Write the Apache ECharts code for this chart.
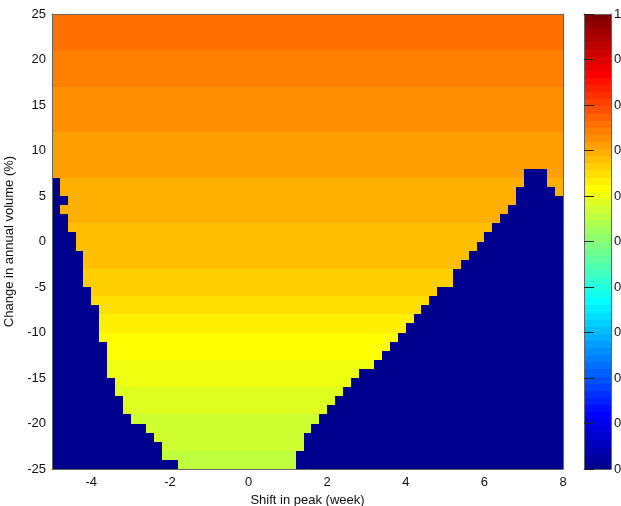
<!DOCTYPE html>
<html>
<head>
<meta charset="utf-8">
<script src="https://cdn.jsdelivr.net/npm/echarts@6/dist/echarts.min.js"></script>
<style>
  html, body { margin: 0; padding: 0; background: #fff; }
  #chart { width: 621px; height: 506px; }
</style>
</head>
<body>
<div id="chart"></div>
<script>
// grid columns: shift in peak (week), left edge of each cell
const weekCols = [-5, -4.8, -4.6, -4.4, -4.2, -4, -3.8, -3.6, -3.4, -3.2, -3, -2.8, -2.6, -2.4, -2.2,
  -2, -1.8, -1.6, -1.4, -1.2, -1, -0.8, -0.6, -0.4, -0.2, 0, 0.2, 0.4, 0.6, 0.8, 1, 1.2, 1.4, 1.6,
  1.8, 2, 2.2, 2.4, 2.6, 2.8, 3, 3.2, 3.4, 3.6, 3.8, 4, 4.2, 4.4, 4.6, 4.8, 5, 5.2, 5.4, 5.6, 5.8,
  6, 6.2, 6.4, 6.6, 6.8, 7, 7.2, 7.4, 7.6, 7.8];

// grid rows: change in annual volume (%), bottom edge of each cell, top to bottom
const volumeRows = [24, 23, 22, 21, 20, 19, 18, 17, 16, 15, 14, 13, 12, 11, 10, 9, 8, 7, 6, 5, 4, 3,
  2, 1, 0, -1, -2, -3, -4, -5, -6, -7, -8, -9, -10, -11, -12, -13, -14, -15, -16, -17, -18, -19,
  -20, -21, -22, -23, -24, -25];

// value in the feasible part of each row
const rowLevel = [0.764, 0.761, 0.757, 0.753, 0.748, 0.745, 0.741, 0.737, 0.733, 0.73, 0.727,
  0.724, 0.721, 0.717, 0.714, 0.711, 0.708, 0.705, 0.701, 0.698, 0.695, 0.692, 0.689, 0.686,
  0.683, 0.68, 0.677, 0.674, 0.67, 0.665, 0.66, 0.654, 0.645, 0.638, 0.63, 0.623, 0.617, 0.611,
  0.607, 0.601, 0.596, 0.592, 0.586, 0.58, 0.577, 0.573, 0.569, 0.564, 0.561, 0.556];

// feasible region per row: from leftEdge up to rightEdge, and again from reopenAt
const leftEdge = [-5, -5, -5, -5, -5, -5, -5, -5, -5, -5, -5, -5, -5, -5, -5, -5, -5, -5,
  -4.8, -4.8, -4.6, -4.8, -4.6, -4.6, -4.4, -4.4, -4.2, -4.2, -4.2, -4.2, -4, -4, -3.8, -3.8,
  -3.8, -3.8, -3.6, -3.6, -3.6, -3.6, -3.4, -3.4, -3.2, -3.2, -3, -2.6, -2.4, -2.2, -2.2, -1.8];
const rightEdge = [8, 8, 8, 8, 8, 8, 8, 8, 8, 8, 8, 8, 8, 8, 8, 8, 8,
  7, 7, 6.8, 6.8, 6.6, 6.4, 6.2, 6, 5.8, 5.6, 5.4, 5.2, 5.2, 4.8, 4.6, 4.4, 4.2, 4, 3.8, 3.6,
  3.4, 3.2, 2.8, 2.6, 2.4, 2.2, 2, 1.8, 1.6, 1.4, 1.4, 1.2, 1.2];
const reopenAt = [8, 8, 8, 8, 8, 8, 8, 8, 8, 8, 8, 8, 8, 8, 8, 8, 8,
  7.6, 7.6, 7.8, 8, 8, 8, 8, 8, 8, 8, 8, 8, 8, 8, 8, 8, 8, 8, 8, 8, 8, 8, 8, 8, 8, 8, 8, 8, 8,
  8, 8, 8, 8];

const xTicks = [-4, -2, 0, 2, 4, 6, 8];
const colStep = 0.2, rowStep = 1;

// matlab jet(64)
function jetMap(m) {
  const n = Math.ceil(m / 4);
  const u = [];
  for (let i = 1; i <= n; i++) u.push(i / n);
  for (let i = 1; i < n; i++) u.push(1);
  for (let i = n; i >= 1; i--) u.push(i / n);
  const J = [];
  for (let i = 0; i < m; i++) J.push([0, 0, 0]);
  const g0 = Math.ceil(n / 2) - (m % 4 === 1 ? 1 : 0);
  const g = [], r = [], b = [];
  for (let i = 1; i <= u.length; i++) {
    if (g0 + i <= m) g.push(g0 + i);
    if (g0 + i + n <= m) r.push(g0 + i + n);
    if (g0 + i - n >= 1) b.push(g0 + i - n);
  }
  r.forEach((idx, k) => { J[idx - 1][0] = u[k]; });
  g.forEach((idx, k) => { J[idx - 1][1] = u[k]; });
  b.forEach((idx, k) => { J[idx - 1][2] = u[u.length - b.length + k]; });
  return J.map(c => 'rgb(' + c.map(v => Math.round(v * 255)).join(',') + ')');
}
const jet = jetMap(64);
const pieces = jet.map((c, i) => i === 63
  ? { gte: i / 64, lte: 1, color: c }
  : { gte: i / 64, lt: (i + 1) / 64, color: c });

const cells = [];
volumeRows.forEach((y, r) => {
  weekCols.forEach(x => {
    const ok = (x >= leftEdge[r] - 1e-6 && x < rightEdge[r] - 1e-6) || x >= reopenAt[r] - 1e-6;
    cells.push([x, y, ok ? rowLevel[r] : 0]);
  });
});

// colour bar: one band per colormap entry
const barBands = jet.map((c, i) => [0, i / 64, (i + 0.5) / 64]);

function snapRect(p0, p1, api) {
  const x = Math.round(p0[0]), y = Math.round(p0[1]);
  return {
    type: 'rect',
    shape: { x: x, y: y, width: Math.round(p1[0]) - x, height: Math.round(p1[1]) - y },
    style: { fill: api.visual('color') }
  };
}
function renderCell(params, api) {
  const x = api.value(0), y = api.value(1);
  return snapRect(api.coord([x, y + rowStep]), api.coord([x + colStep, y]), api);
}
function renderBand(params, api) {
  const lo = api.value(1);
  return snapRect(api.coord([0, lo + 1 / 64]), api.coord([1, lo]), api);
}

const chart = echarts.init(document.getElementById('chart'));
const lineStyle = { color: '#666', width: 1 };
const txt = { color: '#111', fontSize: 13 };
const plain = { axisTick: { show: false }, axisLabel: { show: false }, splitLine: { show: false } };

// short dark marks just inside the colour bar edges (axis shifted in, ticks pointing out)
function barTicks(pos) {
  return {
    gridIndex: 1, type: 'value', min: 0, max: 1, interval: 0.1, position: pos, offset: -5, z: 6,
    axisLine: { show: false },
    axisTick: { show: true, length: 5, lineStyle: { color: '#222' } },
    axisLabel: { show: false }, splitLine: { show: false }
  };
}

chart.setOption({
  animation: false,
  textStyle: { fontFamily: 'Liberation Sans, Arial, sans-serif' },
  grid: [
    { left: 52, top: 14, width: 511, height: 455, outerBoundsMode: 'none', containLabel: false },
    { left: 584, top: 14, width: 27, height: 455, outerBoundsMode: 'none', containLabel: false }
  ],
  xAxis: [
    {
      gridIndex: 0, type: 'value', min: -5, max: 8, position: 'bottom', z: 5,
      axisLine: { onZero: false, lineStyle: lineStyle }, axisTick: { show: false },
      splitLine: { show: false },
      axisLabel: Object.assign({ customValues: xTicks, margin: 7 }, txt),
      name: 'Shift in peak (week)', nameLocation: 'middle', nameGap: 21, nameTextStyle: txt
    },
    Object.assign({ gridIndex: 0, type: 'value', min: -5, max: 8, position: 'top', z: 5,
      axisLine: { onZero: false, lineStyle: lineStyle } }, plain),
    Object.assign({ gridIndex: 1, type: 'value', min: 0, max: 1, position: 'bottom', z: 5,
      axisLine: { onZero: false, lineStyle: lineStyle } }, plain),
    Object.assign({ gridIndex: 1, type: 'value', min: 0, max: 1, position: 'top', z: 5,
      axisLine: { onZero: false, lineStyle: lineStyle } }, plain)
  ],
  yAxis: [
    {
      gridIndex: 0, type: 'value', min: -25, max: 25, interval: 5, position: 'left', z: 5,
      axisLine: { show: true, onZero: false, lineStyle: lineStyle }, axisTick: { show: false },
      splitLine: { show: false },
      axisLabel: Object.assign({ margin: 6 }, txt),
      name: 'Change in annual volume (%)', nameLocation: 'middle', nameGap: 30, nameTextStyle: txt
    },
    Object.assign({ gridIndex: 0, type: 'value', min: -25, max: 25, position: 'right', z: 5,
      axisLine: { show: true, onZero: false, lineStyle: lineStyle } }, plain),
    {
      gridIndex: 1, type: 'value', min: 0, max: 1, interval: 0.1, position: 'right', z: 5,
      axisLine: { show: true, onZero: false, lineStyle: lineStyle },
      axisTick: { show: false }, splitLine: { show: false },
      axisLabel: Object.assign({ margin: 3, formatter: v => (v >= 1 ? '1' : '0') }, txt)
    },
    Object.assign({ gridIndex: 1, type: 'value', min: 0, max: 1, position: 'left', z: 5,
      axisLine: { show: true, onZero: false, lineStyle: lineStyle } }, plain),
    barTicks('left'),
    barTicks('right')
  ],
  visualMap: {
    type: 'piecewise', show: false, dimension: 2, seriesIndex: [0, 1], pieces: pieces
  },
  series: [
    {
      type: 'custom', xAxisIndex: 0, yAxisIndex: 0, renderItem: renderCell, z: 1,
      data: cells, encode: { x: 0, y: 1 }, progressive: 0, silent: true
    },
    {
      type: 'custom', xAxisIndex: 2, yAxisIndex: 2, renderItem: renderBand, z: 1,
      data: barBands, encode: { x: 0, y: 1 }, progressive: 0, silent: true
    }
  ]
});
</script>
</body>
</html>
